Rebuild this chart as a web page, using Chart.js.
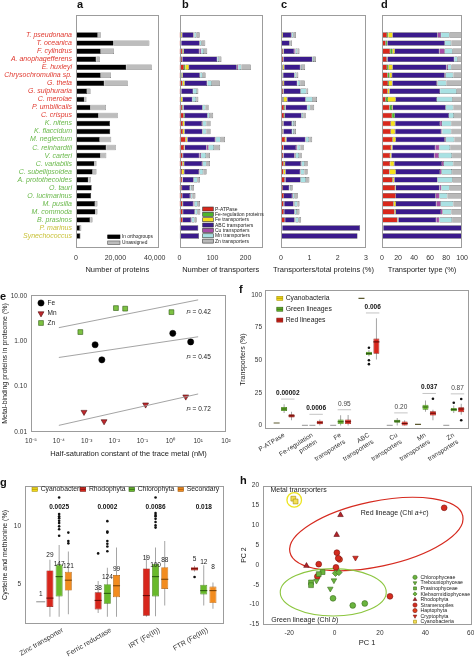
<!DOCTYPE html>
<html>
<head>
<meta charset="utf-8">
<script src="https://cdn.jsdelivr.net/npm/chart.js@4.4.1/dist/chart.umd.min.js"></script>
<style>
  html, body { margin: 0; padding: 0; background: #fff; }
  body { position: relative; width: 474px; height: 659px; overflow: hidden; font-family: "Liberation Sans", Arial, sans-serif; }
  canvas { position: absolute; }
  .tag { position: absolute; font-weight: bold; font-size: 11px; line-height: 11px; color: #111; }
</style>
</head>
<body>
<canvas id="ca"></canvas>
<canvas id="cb"></canvas>
<canvas id="cc"></canvas>
<canvas id="cd"></canvas>
<canvas id="ce"></canvas>
<canvas id="cf"></canvas>
<canvas id="cg"></canvas>
<canvas id="ch"></canvas>
<div class="tag" style="left:77px;top:-1px">a</div>
<div class="tag" style="left:182px;top:-1px">b</div>
<div class="tag" style="left:281px;top:-1px">c</div>
<div class="tag" style="left:381px;top:-1px">d</div>
<div class="tag" style="left:0px;top:291px">e</div>
<div class="tag" style="left:239px;top:284px">f</div>
<div class="tag" style="left:0px;top:477px">g</div>
<div class="tag" style="left:240px;top:475px">h</div>
<script>
// ---------- a-d: proteins and transporters per species ----------
const species = ['T. pseudonana', 'T. oceanica', 'F. cylindrus', 'A. anophagefferens', 'E. huxleyi',
  'Chrysochromulina sp.', 'G. theta', 'G. sulphuraria', 'C. merolae', 'P. umbilicalis', 'C. crispus',
  'K. nitens', 'K. flaccidum', 'M. neglectum', 'C. reinhardtii', 'V. carteri', 'C. variabilis',
  'C. subellipsoidea', 'A. protothecoides', 'O. tauri', 'O. lucimarinus', 'M. pusilla', 'M. commoda',
  'B. prasinos', 'P. marinus', 'Synechococcus'];
const speciesLineage = ['red', 'red', 'red', 'red', 'red', 'red', 'red', 'red', 'red', 'red', 'red',
  'green', 'green', 'green', 'green', 'green', 'green', 'green', 'green', 'green', 'green', 'green', 'green', 'green',
  'cyano', 'cyano'];

const protInOrthogroups = [11100, 19100, 12600, 10300, 25600, 12600, 14400, 5600, 4300, 7400, 11500,
  17300, 17400, 12100, 15400, 12500, 9400, 8500, 6300, 8000, 7700, 9700, 9900, 7200, 2000, 2200];
const protUnassigned = [1500, 18200, 6700, 1800, 12900, 5200, 11900, 1800, 1000, 7800, 9700,
  0, 0, 5800, 4800, 2900, 1000, 1900, 1200, 0, 0, 1200, 1000, 1200, 700, 200];

// b: number of transporters
const countPATPase = [3.8, 3.7, 8.6, 7.6, 13.6, 5.6, 9.2, 4.0, 2.7, 8.4, 12.9, 10.3, 10.3, 18.5, 14.0, 9.4, 9.4, 7.7, 8.3, 7.3, 8.3, 9.1, 9.9, 10.0, 0.9, 0.7];
const countFeReg = [1.0, 1.6, 2.6, 0.9, 4.3, 1.9, 1.5, 0, 1.6, 2.6, 3.6, 0, 0, 0, 0, 0, 0, 0, 0, 0, 0, 0, 0, 0, 0, 0];
const countFeTrans = [3.4, 0, 2.4, 0, 11.0, 2.4, 5.2, 1.4, 5.6, 0.9, 0, 5.2, 5.2, 5.4, 2.0, 1.5, 4.7, 6.5, 1.2, 0.4, 0, 1.7, 1.0, 0.6, 0, 0];
const countABC = [34.2, 55.9, 46.6, 106.0, 144.7, 51.9, 67.7, 35.9, 29.2, 58.1, 68.7, 52.6, 54.1, 84.3, 65.8, 49.3, 54.7, 45.2, 33.4, 23.9, 23.9, 31.2, 35.5, 24.5, 56.1, 58.3];
const countCu = [2.6, 0, 5.6, 0, 4.3, 0.9, 1.0, 0, 0, 0, 0, 2.3, 1.1, 1.7, 6.3, 5.1, 2.2, 1.6, 0, 1.1, 2.3, 3.4, 1.3, 2.0, 0, 0];
const countMn = [6.5, 6.2, 8.3, 5.5, 9.3, 7.4, 13.4, 11.9, 11.2, 8.4, 6.4, 11.0, 10.7, 14.6, 16.5, 15.2, 10.9, 10.7, 11.7, 4.5, 4.7, 9.7, 6.9, 8.2, 0, 0];
const countZn = [9.6, 10.7, 9.9, 7.0, 28.7, 8.8, 24.0, 3.8, 6.7, 9.7, 10.4, 12.6, 12.6, 13.5, 18.5, 11.6, 10.1, 10.3, 7.3, 6.9, 8.9, 6.8, 8.4, 6.6, 0, 0];

// c: transporters / total proteins (%)
const sharePATPase = [0.033, 0.018, 0.066, 0.074, 0.054, 0.043, 0.063, 0.068, 0.060, 0.111, 0.110, 0.058, 0.058, 0.147, 0.091, 0.074, 0.096, 0.088, 0.134, 0.068, 0.102, 0.095, 0.102, 0.137, 0.045, 0.032];
const shareFeReg = [0.008, 0.008, 0.020, 0.009, 0.017, 0.015, 0.010, 0, 0.036, 0.035, 0.030, 0, 0, 0, 0, 0, 0, 0, 0, 0, 0, 0, 0, 0, 0, 0];
const shareFeTrans = [0.029, 0, 0.018, 0, 0.043, 0.019, 0.036, 0.023, 0.124, 0.012, 0, 0.029, 0.029, 0.043, 0.013, 0.012, 0.048, 0.074, 0.020, 0.003, 0, 0.018, 0.010, 0.009, 0, 0];
const shareABC = [0.297, 0.280, 0.361, 1.027, 0.570, 0.401, 0.466, 0.605, 0.650, 0.772, 0.586, 0.297, 0.305, 0.672, 0.428, 0.391, 0.559, 0.518, 0.539, 0.223, 0.293, 0.328, 0.366, 0.335, 2.745, 2.668];
const shareCu = [0.023, 0, 0.044, 0, 0.017, 0.007, 0.007, 0, 0, 0, 0, 0.013, 0.006, 0.013, 0.041, 0.040, 0.023, 0.019, 0, 0.010, 0.028, 0.036, 0.013, 0.028, 0, 0];
const shareMn = [0.056, 0.031, 0.064, 0.053, 0.037, 0.057, 0.092, 0.200, 0.250, 0.111, 0.055, 0.062, 0.060, 0.117, 0.107, 0.120, 0.111, 0.122, 0.189, 0.042, 0.058, 0.102, 0.072, 0.112, 0, 0];
const shareZn = [0.083, 0.053, 0.077, 0.068, 0.113, 0.068, 0.165, 0.064, 0.150, 0.129, 0.089, 0.071, 0.071, 0.108, 0.120, 0.092, 0.103, 0.118, 0.118, 0.064, 0.109, 0.072, 0.087, 0.089, 0, 0];

// d: transporter type (%)
const typePATPase = [6.3, 4.7, 10.2, 6.0, 6.3, 7.1, 7.5, 7.1, 4.7, 9.5, 12.6, 11.0, 11.0, 13.4, 11.4, 10.2, 10.2, 9.4, 13.4, 16.5, 17.3, 14.6, 15.7, 19.3, 1.6, 1.2];
const typeFeReg = [1.6, 2.0, 3.1, 0.7, 2.0, 2.4, 1.2, 0, 2.8, 3.0, 3.5, 0, 0, 0, 0, 0, 0, 0, 0, 0, 0, 0, 0, 0, 0, 0];
const typeFeTrans = [5.5, 0, 2.8, 0, 5.1, 3.1, 4.3, 2.4, 9.8, 1.0, 0, 5.5, 5.5, 3.9, 1.6, 1.6, 5.1, 7.9, 2.0, 0.8, 0, 2.8, 1.6, 1.2, 0, 0];
const typeABC = [56.0, 71.7, 55.5, 83.5, 67.0, 65.7, 55.5, 63.0, 51.2, 66.0, 67.4, 56.0, 57.5, 61.1, 53.5, 53.6, 59.5, 55.1, 53.9, 54.4, 49.7, 50.4, 56.3, 47.2, 98.4, 98.8];
const typeCu = [4.3, 0, 6.7, 0, 2.0, 1.2, 0.8, 0, 0, 0, 0, 2.4, 1.2, 1.2, 5.1, 5.5, 2.4, 2.0, 0, 2.4, 4.7, 5.5, 2.0, 3.9, 0, 0];
const typeMn = [10.6, 7.9, 9.9, 4.3, 4.3, 9.4, 11.0, 20.8, 19.7, 9.5, 6.3, 11.7, 11.4, 10.6, 13.4, 16.5, 11.8, 13.0, 18.9, 10.2, 9.8, 15.7, 11.0, 15.8, 0, 0];
const typeZn = [15.7, 13.7, 11.8, 5.5, 13.3, 11.1, 19.7, 6.7, 11.8, 11.0, 10.2, 13.4, 13.4, 9.8, 15.0, 12.6, 11.0, 12.6, 11.8, 15.7, 18.5, 11.0, 13.4, 12.6, 0, 0];

const transporterNames = ['P-ATPase', 'Fe-regulation proteins', 'Fe transporters', 'ABC transporters', 'Cu transporters', 'Mn transporters', 'Zn transporters'];

// ---------- e: metal-binding proteins vs half-saturation ----------
const feHalfSat = [0.002, 0.0035, 1.23, 5.4];
const feProteome = [0.84, 0.39, 1.5, 0.97];
const mnHalfSat = [0.0008, 0.0042, 0.13, 3.6];
const mnProteome = [0.0275, 0.0171, 0.040, 0.060];
const znHalfSat = [0.00059, 0.0112, 0.024, 1.1];
const znProteome = [1.6, 5.4, 5.25, 4.4];
const fitX = [0.0001, 10];
const feFitY = [0.44, 1.26];
const mnFitY = [0.014, 0.069];
const znFitY = [2.0, 8.2];
const rSquared = ['0.42', '0.45', '0.72'];

// ---------- f: transporter share by lineage ----------
const fGroups = ['P-ATPase', ['Fe-regulation', 'protein'], ['Fe', 'transporters'], ['ABC', 'transporters'],
  ['Cu', 'transporters'], ['Mn', 'transporters'], ['Zn', 'transporters']];
const fCyanoMedian = [1.8, 0, 0, 97.5, 0, 0.8, 0];
const fGreenLo = [9.6, 0, 0, 53.0, 0, 10.4, 9.6];
const fGreenQ1 = [11.1, 0, 1.0, 54.0, 2.0, 12.1, 10.9];
const fGreenMed = [12.6, 0, 2.8, 55.3, 3.3, 14.1, 12.1];
const fGreenQ3 = [14.1, 0, 4.5, 56.6, 4.3, 15.9, 13.4];
const fGreenHi = [16.2, 0, 7.8, 57.8, 5.6, 19.2, 15.2];
const fRedLo = [4.0, 0, 0, 50.5, 0, 4.0, 8.1];
const fRedQ1 = [6.1, 0.8, 1.0, 55.0, 0, 7.6, 10.1];
const fRedMed = [7.3, 2.0, 2.8, 64.1, 1.5, 9.3, 12.6];
const fRedQ3 = [8.6, 3.5, 4.5, 66.7, 3.0, 10.9, 13.9];
const fRedHi = [10.4, 4.5, 8.0, 82.3, 4.0, 12.1, 16.7];
const fGreenOutliers = [[3, 59.6], [3, 50.0], [3, 47.0], [6, 17.4]];
const fRedOutliers = [[5, 20.5], [6, 20.2], [6, 4.0]];
const fPValues = ['0.00002', '0.0006', '0.95', '0.006', '0.20', '0.037', '0.87'];
const fSignificant = [true, true, false, true, false, true, false];

// ---------- g: cysteine and methionine ----------
const gGroups = ['Zinc transporter', 'Ferric reductase', 'IRT (Fe(II))', 'FTR (Fe(III))'];
const gCyanoMedian = [3.47, null, null, null];
const gRhodoLo = [2.18, 2.51, 2.18, 6.10];
const gRhodoQ1 = [3.02, 2.80, 2.26, 6.19];
const gRhodoMed = [3.79, 3.59, 4.01, 6.33];
const gRhodoQ3 = [6.19, 4.29, 6.36, 6.47];
const gRhodoHi = [7.10, 5.28, 7.54, 6.60];
const gChloroLo = [2.18, 2.18, 2.23, 3.16];
const gChloroQ1 = [3.93, 3.30, 3.93, 4.10];
const gChloroMed = [5.65, 4.20, 5.65, 4.44];
const gChloroQ3 = [6.69, 5.00, 6.75, 4.94];
const gChloroHi = [8.39, 6.41, 8.16, 6.64];
const gSecLo = [2.40, 2.18, 3.16, 2.88];
const gSecQ1 = [4.44, 3.87, 4.58, 3.36];
const gSecMed = [5.34, 4.86, 5.42, 4.44];
const gSecQ3 = [6.07, 5.79, 6.47, 4.80];
const gSecHi = [7.82, 8.16, 8.73, 5.14];
const gRhodoOutliers = [[1, 7.66], [3, 5.62]];
const gChloroOutliers = [[0, 12.49], [0, 11.07], [0, 10.88], [0, 10.71], [0, 10.48], [0, 10.28], [0, 10.0], [0, 9.75], [0, 9.18],
  [1, 10.45], [1, 9.55], [1, 9.46], [1, 8.73], [1, 8.5], [1, 8.25], [1, 7.85],
  [2, 12.49], [2, 11.16], [2, 10.99], [2, 10.88], [2, 10.65], [2, 10.37], [2, 10.08], [2, 9.89]];
const gSecOutliers = [[0, 9.46], [0, 8.73], [0, 8.53]];
const gCounts = [['1', '29', '147', '121'], [null, '38', '124', '99'], [null, '19', '100', '88'], [null, '5', '12', '8']];
const gCountAt = [[4.15, 7.46, 6.69, 6.55], [null, 4.63, 5.56, 6.27], [null, 7.26, 6.64, 7.06], [null, 7.12, 6.92, 6.47]];
const gPValues = ['0.0025', '0.0002', '0.0086', '0.018'];
const gPValueAt = 11.64;

// ---------- h: PCA of metal transporters ----------
const hChlorophyceae = [[-0.7, -8.4], [8.0, -10.2], [13.3, -9.7]];
const hTrebouxiophyceae = [[-1.9, -6.0], [-0.3, -3.9], [-8.0, -4.0]];
const hPrasinophyceae = [[-10.4, -4.4], [-10.4, -5.1], [-5.3, -1.8], [-7.0, -2.3]];
const hKlebsormidiophyceae = [[0.4, -2.1], [1.9, -1.9]];
const hRhodophyta = [[2.6, 12.6], [0.9, 7.6], [-12.4, -0.2]];
const hStramenopiles = [[1.0, 3.1], [1.6, 1.7], [0.6, -0.6], [-7.0, 0.2], [24.4, -7.9], [48.3, 14.4], [-7.6, -2.9]];
const hHaptophyta = [[2.2, 1.4]];
const hCryptophyta = [[9.2, 1.8]];
const hCyanobacteria = [[-18.2, 16.7], [-17.2, 16.0]];

// ---------- setup ----------
const FONT = '"Liberation Sans", Arial, Helvetica, sans-serif';
Chart.defaults.font.family = FONT;
Chart.defaults.color = '#333';
Chart.defaults.animation = false;
Chart.defaults.responsive = false;
Chart.defaults.events = [];
Chart.defaults.plugins.legend.display = false;
Chart.defaults.plugins.tooltip.enabled = false;

const C = {
  red: '#d8281c', green: '#4db52b', yellow: '#f5df1b', purple: '#3b1b8c', magenta: '#a64ca6', cyan: '#a9e1e3', grey: '#b9b9b9',
  boxYellow: '#f2d81d', boxGreen: '#69b92b', boxRed: '#d7261c', boxOrange: '#f28c1f'
};
const lineageColor = { red: '#e0392f', green: '#69b84a', cyano: '#c9c23a' };

Chart.register({
  id: 'frame',
  afterDatasetsDraw(chart) {
    const a = chart.chartArea, ctx = chart.ctx;
    ctx.save();
    ctx.strokeStyle = '#9c9c9c';
    ctx.lineWidth = 1;
    ctx.strokeRect(Math.round(a.left) + 0.5, Math.round(a.top) + 0.5, Math.round(a.right - a.left) - 1, Math.round(a.bottom - a.top) - 1);
    ctx.restore();
  }
});

function notesPlugin(items) {
  function xy(chart, it, x, y) {
    if (it.page) return [x - chart.canvas.offsetLeft, y - chart.canvas.offsetTop];
    return [chart.scales.x.getPixelForValue(x), chart.scales.y.getPixelForValue(y)];
  }
  function draw(chart, under) {
    const ctx = chart.ctx;
    items.filter(it => !!it.under === under).forEach(it => {
      ctx.save();
      const [x, y] = xy(chart, it, it.x, it.y);
      if (it.k === 'text') {
        const parts = Array.isArray(it.text) ? it.text : [[it.text, it.italic]];
        const fontOf = ital => (ital ? 'italic ' : '') + (it.bold ? 'bold ' : '') + (it.size || 7) + 'px ' + FONT;
        ctx.fillStyle = it.color || '#222';
        ctx.textBaseline = 'middle';
        ctx.textAlign = 'left';
        let total = 0;
        parts.forEach(p => { ctx.font = fontOf(p[1]); total += ctx.measureText(p[0]).width; });
        let cx = it.align === 'center' ? x - total / 2 : it.align === 'right' ? x - total : x;
        parts.forEach(p => { ctx.font = fontOf(p[1]); ctx.fillText(p[0], cx, y); cx += ctx.measureText(p[0]).width; });
      } else if (it.k === 'key') {
        ctx.fillStyle = it.fill;
        ctx.fillRect(x, y - it.h / 2, it.w, it.h);
        if (it.stroke) { ctx.strokeStyle = it.stroke; ctx.lineWidth = 0.6; ctx.strokeRect(x, y - it.h / 2, it.w, it.h); }
        if (it.mid) { ctx.strokeStyle = it.mid; ctx.lineWidth = 0.8; ctx.beginPath(); ctx.moveTo(x, y); ctx.lineTo(x + it.w, y); ctx.stroke(); }
      } else if (it.k === 'pt') {
        ctx.fillStyle = it.fill; ctx.strokeStyle = it.stroke || it.fill; ctx.lineWidth = 0.6;
        Chart.helpers.drawPoint(ctx, { pointStyle: it.style, radius: it.r, rotation: it.rot || 0, borderWidth: 0.6 }, x, y);
      } else if (it.k === 'seg') {
        const [x2, y2] = xy(chart, it, it.x2, it.y2);
        ctx.strokeStyle = it.color; ctx.lineWidth = it.w || 0.8;
        ctx.beginPath(); ctx.moveTo(x, y); ctx.lineTo(x2, y2); ctx.stroke();
      } else if (it.k === 'ell') {
        ctx.strokeStyle = it.color; ctx.lineWidth = it.w || 1.2;
        ctx.beginPath(); ctx.ellipse(x, y, it.rx, it.ry, (it.rot || 0) * Math.PI / 180, 0, Math.PI * 2); ctx.stroke();
      }
      ctx.restore();
    });
  }
  return { id: 'notes', beforeDatasetsDraw(chart) { draw(chart, true); }, afterDraw(chart) { draw(chart, false); } };
}

function place(id, left, top, w, h) {
  const c = document.getElementById(id);
  c.width = w; c.height = h;
  c.style.left = left + 'px'; c.style.top = top + 'px';
  c.style.width = w + 'px'; c.style.height = h + 'px';
  return c;
}
const fixW = w => s => { s.width = w; };
const fixH = h => s => { s.height = h; };
const setTicks = vals => s => { s.ticks = vals.map(v => ({ value: v })); };
const noGrid = { display: false, drawTicks: false };
const noBorder = { display: false };
const pad = arr => [null, null, ...arr, null];

// ---------- a-d ----------
function rowsChart(id, left, width, yW, padR, datasets, xOpts, showNames, items) {
  return new Chart(place(id, left, 0, width, 274), {
    type: 'bar',
    data: { labels: pad(species).map(s => s || ''), datasets },
    options: {
      indexAxis: 'y',
      layout: { padding: { top: 15, right: padR, left: 0, bottom: 0 } },
      datasets: { bar: { categoryPercentage: 1, barPercentage: 0.68, borderWidth: 0.5, borderColor: '#2a2a2a' } },
      scales: {
        x: Object.assign({
          type: 'linear', stacked: true, min: 0, grid: noGrid, border: noBorder, afterFit: fixH(26),
        }, xOpts),
        y: {
          stacked: true, grid: noGrid, border: noBorder, afterFit: fixW(yW),
          ticks: showNames ? {
            autoSkip: false, padding: 4, font: { size: 7, style: 'italic' },
            color: c => lineageColor[speciesLineage[c.index - 2]] || '#000'
          } : { display: false }
        }
      }
    },
    plugins: [notesPlugin(items || [])]
  });
}
function xAxisOpts(max, ticks, fmt, title) {
  return {
    max, afterBuildTicks: setTicks(ticks),
    ticks: { font: { size: 7 }, color: '#333', padding: 6, maxRotation: 0, autoSkip: false, callback: fmt },
    title: title ? { display: true, text: title, font: { size: 7.5 }, color: '#222', padding: 0 } : { display: false }
  };
}
function transporterSets(a) {
  const cols = [C.red, C.green, C.yellow, C.purple, C.magenta, C.cyan, C.grey];
  return a.map((d, i) => ({ label: transporterNames[i], data: pad(d), backgroundColor: cols[i] }));
}
const legendB = transporterNames.map((n, i) => [
  { k: 'key', page: true, x: 202.7, y: 209 + i * 5.35, w: 10.6, h: 4, fill: [C.red, C.green, C.yellow, C.purple, C.magenta, C.cyan, C.grey][i], stroke: '#333' },
  { k: 'text', page: true, x: 215, y: 209.2 + i * 5.35, text: n, size: 5 }
]).flat();

rowsChart('ca', 0, 172, 76, 12, [
  { label: 'In orthogroups', data: pad(protInOrthogroups), backgroundColor: '#000' },
  { label: 'Unassigned', data: pad(protUnassigned), backgroundColor: '#bdbdbd', borderColor: '#555' }
], xAxisOpts(42000, [0, 20000, 40000], v => v === 0 ? '0' : (v / 1000) + ',000', 'Number of proteins'), true, [
  { k: 'key', page: true, x: 107.7, y: 236.8, w: 12.3, h: 3.7, fill: '#000', stroke: '#000' },
  { k: 'text', page: true, x: 122, y: 237, text: 'In orthogroups', size: 4.8 },
  { k: 'key', page: true, x: 107.7, y: 242.8, w: 12.3, h: 3.7, fill: '#bdbdbd', stroke: '#555' },
  { k: 'text', page: true, x: 122, y: 243, text: 'Unassigned', size: 4.8 }
]);

rowsChart('cb', 168, 108, 11.5, 14,
  transporterSets([countPATPase, countFeReg, countFeTrans, countABC, countCu, countMn, countZn]),
  xAxisOpts(250, [0, 100, 200], v => String(v), 'Number of transporters'), false, legendB);

rowsChart('cc', 270, 106, 11, 10,
  transporterSets([sharePATPase, shareFeReg, shareFeTrans, shareABC, shareCu, shareMn, shareZn]),
  xAxisOpts(3, [0, 1, 2, 3], v => String(v), null), false, [
    { k: 'text', page: true, x: 323.5, y: 269.5, text: 'Transporters/total proteins (%)', size: 7.5, align: 'center' }
  ]);

rowsChart('cd', 372, 102, 10, 7,
  transporterSets([typePATPase, typeFeReg, typeFeTrans, typeABC, typeCu, typeMn, typeZn]),
  xAxisOpts(100, [0, 20, 40, 60, 80, 100], v => String(v), 'Transporter type (%)'), false, []);

// ---------- e ----------
const supDigits = { '-': '\u207B', '0': '\u2070', '1': '\u00B9', '2': '\u00B2', '3': '\u00B3', '4': '\u2074', '5': '\u2075', '6': '\u2076', '7': '\u2077', '8': '\u2078', '9': '\u2079' };
const sup = n => String(n).split('').map(ch => supDigits[ch]).join('');
const pts = (xs, ys) => xs.map((x, i) => ({ x, y: ys[i] }));

new Chart(place('ce', 0, 283, 236, 175), {
  type: 'scatter',
  data: {
    datasets: [
      { type: 'line', data: pts(fitX, znFitY), borderColor: '#9a9a9a', borderWidth: 0.9, pointRadius: 0 },
      { type: 'line', data: pts(fitX, feFitY), borderColor: '#9a9a9a', borderWidth: 0.9, pointRadius: 0 },
      { type: 'line', data: pts(fitX, mnFitY), borderColor: '#9a9a9a', borderWidth: 0.9, pointRadius: 0 },
      { label: 'Fe', data: pts(feHalfSat, feProteome), pointStyle: 'circle', pointRadius: 3.1, pointBackgroundColor: '#000', pointBorderColor: '#000', pointBorderWidth: 0.5 },
      { label: 'Mn', data: pts(mnHalfSat, mnProteome), pointStyle: 'triangle', pointRotation: 180, pointRadius: 3.4, pointBackgroundColor: '#c0282d', pointBorderColor: '#4d0c0c', pointBorderWidth: 0.6 },
      { label: 'Zn', data: pts(znHalfSat, znProteome), pointStyle: 'rect', pointRadius: 3.4, pointBackgroundColor: '#7dc242', pointBorderColor: '#2f5a13', pointBorderWidth: 0.6 }
    ]
  },
  options: {
    layout: { padding: { top: 12, right: 10, left: 0, bottom: 0 } },
    scales: {
      x: {
        type: 'logarithmic', min: 1e-5, max: 100, grid: noGrid, border: noBorder, afterFit: fixH(26),
        afterBuildTicks: setTicks([1e-5, 1e-4, 1e-3, 1e-2, 1e-1, 1, 10, 100]),
        ticks: { font: { size: 6.5 }, color: '#333', padding: 5, maxRotation: 0, autoSkip: false, callback: v => '10' + sup(Math.round(Math.log10(v))) },
        title: { display: true, text: 'Half-saturation constant of the trace metal (nM)', font: { size: 7.5 }, color: '#222', padding: 0 }
      },
      y: {
        type: 'logarithmic', min: 0.01, max: 10.5, grid: noGrid, border: noBorder, afterFit: fixW(31),
        afterBuildTicks: setTicks([0.01, 0.1, 1, 10]),
        ticks: { font: { size: 6.5 }, color: '#333', padding: 4, autoSkip: false, callback: v => v.toFixed(2) },
        title: { display: true, text: 'Metal-binding proteins in proteome (%)', font: { size: 7 }, color: '#222', padding: { top: 1, bottom: 0 } }
      }
    }
  },
  plugins: [notesPlugin([
    { k: 'pt', page: true, x: 41, y: 303, style: 'circle', r: 3.1, fill: '#000' },
    { k: 'text', page: true, x: 47.5, y: 303, text: 'Fe', size: 6.5 },
    { k: 'pt', page: true, x: 41, y: 313.5, style: 'triangle', rot: 180, r: 3.4, fill: '#c0282d', stroke: '#4d0c0c' },
    { k: 'text', page: true, x: 47.5, y: 313, text: 'Mn', size: 6.5 },
    { k: 'pt', page: true, x: 41, y: 323, style: 'rect', r: 3.4, fill: '#7dc242', stroke: '#2f5a13' },
    { k: 'text', page: true, x: 47.5, y: 323, text: 'Zn', size: 6.5 },
    { k: 'text', x: 3.8, y: 4.4, text: [['r', true], ['\u00B2 = ' + rSquared[0], false]], size: 6.5 },
    { k: 'text', x: 3.8, y: 0.45, text: [['r', true], ['\u00B2 = ' + rSquared[1], false]], size: 6.5 },
    { k: 'text', x: 3.8, y: 0.032, text: [['r', true], ['\u00B2 = ' + rSquared[2], false]], size: 6.5 }
  ])]
});

// ---------- box plot helpers ----------
function boxSets(pos, lo, q1, med, q3, hi, fill, edge, medCol, halfW) {
  const idx = q1.map((v, i) => i).filter(i => q1[i] !== null);
  return [
    { type: 'bar', data: idx.map(i => ({ x: pos(i), y: [lo[i], hi[i]] })), backgroundColor: '#9b9b9b', maxBarThickness: 0.9, grouped: false, order: 3 },
    { type: 'bar', data: idx.map(i => ({ x: pos(i), y: [q1[i], q3[i]] })), backgroundColor: fill, borderColor: edge, borderWidth: 0.7, borderSkipped: false, grouped: false, order: 2 },
    { type: 'scatter', data: idx.map(i => ({ x: pos(i), y: med[i] })), pointStyle: 'line', pointRadius: halfW, pointBorderWidth: 1.1,
      pointBorderColor: c => (q1[c.raw ? idx[c.dataIndex] : 0] === q3[c.raw ? idx[c.dataIndex] : 0] ? '#aaaaaa' : medCol), order: 1 }
  ];
}
function dots(list, pos) {
  return { type: 'scatter', data: list.map(([g, v]) => ({ x: pos(g), y: v })), pointStyle: 'circle', pointRadius: 1.3, pointBackgroundColor: '#111', pointBorderWidth: 0, order: 0 };
}

// ---------- f ----------
const posF = (g, k) => 1.56 + 3.79 * g + k;
const fNotes = [];
fGroups.forEach((g, i) => {
  const tops = [fGreenHi[i], fRedHi[i]].concat(fGreenOutliers.concat(fRedOutliers).filter(o => o[0] === i).map(o => o[1]));
  const by = Math.max(...tops) + 4;
  fNotes.push({ k: 'seg', x: posF(i, 1) - 0.4, y: by, x2: posF(i, 2) + 0.4, y2: by, color: '#b5b5b5', w: 0.8 });
  fNotes.push({ k: 'text', x: posF(i, 1.5), y: by + 4.5, text: fPValues[i], bold: fSignificant[i], size: 6.5, align: 'center', color: fSignificant[i] ? '#111' : '#444' });
});
[['Cyanobacteria', C.boxYellow, '#a89500'], ['Green lineages', C.boxGreen, '#2c5c10'], ['Red lineages', C.boxRed, '#7a120c']].forEach((l, i) => {
  fNotes.push({ k: 'key', page: true, x: 276.8, y: 298.3 + i * 10.9, w: 6, h: 4, fill: l[1], stroke: l[2], mid: l[2] });
  fNotes.push({ k: 'text', page: true, x: 285.7, y: 298.5 + i * 10.9, text: l[0], size: 6.8 });
});

new Chart(place('cf', 236, 283, 238, 183), {
  type: 'bar',
  data: {
    datasets: [
      ...boxSets(i => posF(i, 1), fGreenLo, fGreenQ1, fGreenMed, fGreenQ3, fGreenHi, C.boxGreen, '#3f7a14', '#2c5c10', 3),
      ...boxSets(i => posF(i, 2), fRedLo, fRedQ1, fRedMed, fRedQ3, fRedHi, C.boxRed, '#8a140d', '#6b0d08', 3),
      { type: 'scatter', data: fCyanoMedian.map((v, i) => ({ x: posF(i, 0), y: v })), pointStyle: 'line', pointRadius: 3, pointBorderWidth: 1.1,
        pointBorderColor: c => (c.raw && c.raw.y > 0 ? '#5d5a30' : '#aaaaaa'), order: 1 },
      dots(fGreenOutliers, g => posF(g, 1)),
      dots(fRedOutliers, g => posF(g, 2))
    ]
  },
  options: {
    layout: { padding: { top: 5, right: 4, left: 0, bottom: 0 } },
    datasets: { bar: { barPercentage: 0.8, categoryPercentage: 1 } },
    scales: {
      x: {
        type: 'linear', offset: false, min: 0, max: 27.33, grid: noGrid, border: noBorder, afterFit: fixH(36.7),
        afterBuildTicks: setTicks(fGroups.map((g, i) => posF(i, 1))),
        ticks: { font: { size: 6.5 }, color: '#333', padding: 2, minRotation: 32, maxRotation: 32, autoSkip: false, callback: (v, i) => fGroups[i] }
      },
      y: {
        stacked: false, min: -3, max: 104, grid: noGrid, border: noBorder, afterFit: fixW(29),
        afterBuildTicks: setTicks([0, 25, 50, 75, 100]),
        ticks: { font: { size: 6.5 }, color: '#333', padding: 3, callback: v => String(v) },
        title: { display: true, text: 'Transporters (%)', font: { size: 7 }, color: '#222', padding: { top: 2.8, bottom: 0 } }
      }
    }
  },
  plugins: [notesPlugin(fNotes)]
});

// ---------- g ----------
const posG = (g, k) => 1.71 + 5.24 * g + k;
const gNotes = [];
gGroups.forEach((g, i) => {
  gNotes.push({ k: 'text', x: posG(i, 2), y: gPValueAt, text: gPValues[i], bold: true, size: 6.5, align: 'center', color: '#111' });
  gCounts[i].forEach((t, k) => {
    if (t !== null) gNotes.push({ k: 'text', x: posG(i, k), y: gCountAt[i][k], text: t, size: 6.5, align: 'center', color: '#222' });
  });
});
[['Cyanobacteria', C.boxYellow, '#a89500', 32], ['Rhodophyta', C.boxRed, '#7a120c', 80.2], ['Chlorophyta', C.boxGreen, '#2c5c10', 129], ['Secondary', C.boxOrange, '#9a5206', 178]].forEach(l => {
  gNotes.push({ k: 'key', page: true, x: l[3], y: 489.3, w: 5.5, h: 4, fill: l[1], stroke: l[2], mid: l[2] });
  gNotes.push({ k: 'text', page: true, x: l[3] + 8.7, y: 489.5, text: l[0], size: 6.8 });
});

new Chart(place('cg', 0, 478, 236, 181), {
  type: 'bar',
  data: {
    datasets: [
      ...boxSets(i => posG(i, 1), gRhodoLo, gRhodoQ1, gRhodoMed, gRhodoQ3, gRhodoHi, C.boxRed, '#8a140d', '#6b0d08', 3.5),
      ...boxSets(i => posG(i, 2), gChloroLo, gChloroQ1, gChloroMed, gChloroQ3, gChloroHi, C.boxGreen, '#3f7a14', '#2c5c10', 3.5),
      ...boxSets(i => posG(i, 3), gSecLo, gSecQ1, gSecMed, gSecQ3, gSecHi, C.boxOrange, '#a85a0a', '#7a4205', 3.5),
      { type: 'scatter', data: gCyanoMedian.map((v, i) => ({ x: posG(i, 0), y: v })).filter(p => p.y !== null), pointStyle: 'line', pointRadius: 4.5, pointBorderWidth: 1, pointBorderColor: '#8a8a8a', order: 1 },
      dots(gRhodoOutliers, g => posG(g, 1)),
      dots(gChloroOutliers, g => posG(g, 2)),
      dots(gSecOutliers, g => posG(g, 3))
    ]
  },
  options: {
    layout: { padding: { top: 4.7, right: 12, left: 0, bottom: 0 } },
    datasets: { bar: { barPercentage: 0.76, categoryPercentage: 1 } },
    scales: {
      x: {
        type: 'linear', offset: false, min: 0, max: 21.63, grid: noGrid, border: noBorder, afterFit: fixH(35),
        afterBuildTicks: setTicks(gGroups.map((g, i) => posG(i, 2.4))),
        ticks: { font: { size: 7 }, color: '#333', padding: 2, minRotation: 30, maxRotation: 30, autoSkip: false, callback: (v, i) => gGroups[i] }
      },
      y: {
        stacked: false, min: 1.55, max: 13.5, grid: noGrid, border: noBorder, afterFit: fixW(25),
        afterBuildTicks: setTicks([5, 10]),
        ticks: { font: { size: 6.5 }, color: '#333', padding: 4, callback: v => String(v) },
        title: { display: true, text: 'Cysteine and methionine (%)', font: { size: 7 }, color: '#222', padding: { top: 1, bottom: 0 } }
      }
    }
  },
  plugins: [notesPlugin(gNotes)]
});

// ---------- h ----------
const hGreen = '#6ab43e', hGreenEdge = '#3b6b1c', hRed = '#d42c1f', hRedEdge = '#7a1410';
const hSeries = [
  ['Chlorophyceae', hChlorophyceae, 'circle', 0, 2.9, hGreen, hGreenEdge],
  ['Trebouxiophyceae', hTrebouxiophyceae, 'triangle', 180, 3.2, hGreen, hGreenEdge],
  ['Prasinophyceae', hPrasinophyceae, 'rect', 0, 3.4, hGreen, hGreenEdge],
  ['Klebsormidiophyceae', hKlebsormidiophyceae, 'rectRot', 0, 3.2, hGreen, hGreenEdge],
  ['Rhodophyta', hRhodophyta, 'triangle', 0, 3.2, '#b3232a', '#5e0e10'],
  ['Stramenopiles', hStramenopiles, 'circle', 0, 2.9, hRed, hRedEdge],
  ['Haptophyta', hHaptophyta, 'circle', 0, 2.9, '#e0401c', hRedEdge],
  ['Cryptophyta', hCryptophyta, 'triangle', 180, 3.2, hRed, hRedEdge],
  ['Cyanobacteria', hCyanobacteria, 'rect', 0, 3.4, '#f3df5a', '#a68f00']
];
const hNotes = [
  { k: 'ell', under: true, x: -17.8, y: 16.4, rx: 7.3, ry: 7.3, color: '#ede41f', w: 1.3 },
  { k: 'ell', under: true, x: 18.4, y: 7.8, rx: 88.3, ry: 32.6, rot: -11.8, color: '#d62a1f', w: 1.2 },
  { k: 'ell', under: true, x: -0.6, y: -6.9, rx: 53, ry: 23.7, color: '#8cc63f', w: 1.1 },
  { k: 'text', x: -28.3, y: 18.86, text: 'Metal transporters', size: 7 },
  { k: 'text', x: 11.5, y: 13.0, text: [['Red lineage (Chl ', false], ['a+c', true], [')', false]], size: 7 },
  { k: 'text', x: -27.9, y: -14.0, text: [['Green lineage (Chl ', false], ['b', true], [')', false]], size: 7 }
];
hSeries.forEach((s, i) => {
  hNotes.push({ k: 'pt', page: true, x: 415, y: 577.3 + i * 5.55, style: s[2], rot: s[3], r: 2.1, fill: s[5], stroke: s[6] });
  hNotes.push({ k: 'text', page: true, x: 420.5, y: 577.5 + i * 5.55, text: s[0], size: 5.2 });
});

new Chart(place('ch', 240, 478, 240, 169), {
  type: 'scatter',
  data: {
    datasets: hSeries.map(s => ({
      label: s[0], data: s[1].map(p => ({ x: p[0], y: p[1] })), pointStyle: s[2], pointRotation: s[3], pointRadius: s[4],
      pointBackgroundColor: s[5], pointBorderColor: s[6], pointBorderWidth: 0.6
    }))
  },
  options: {
    layout: { padding: { top: 4.7, right: 8.5, left: 0, bottom: 0 } },
    scales: {
      x: {
        type: 'linear', min: -31.7, max: 60.35, grid: noGrid, border: noBorder, afterFit: fixH(22.5),
        afterBuildTicks: setTicks([-20, 0, 20, 40, 60]),
        ticks: { font: { size: 6.5 }, color: '#333', padding: 5, maxRotation: 0, autoSkip: false, callback: v => String(v) },
        title: { display: true, text: 'PC 1', font: { size: 7.5 }, color: '#222', padding: 0 }
      },
      y: {
        type: 'linear', min: -15, max: 20, grid: noGrid, border: noBorder, afterFit: fixW(22.7),
        afterBuildTicks: setTicks([-15, -10, -5, 0, 5, 10, 15, 20]),
        ticks: { font: { size: 6.5 }, color: '#333', padding: 3.7, autoSkip: false, callback: v => String(v) },
        title: { display: true, text: 'PC 2', font: { size: 7 }, color: '#222', padding: { top: 0, bottom: 0 } }
      }
    }
  },
  plugins: [notesPlugin(hNotes)]
});
</script>
</body>
</html>
